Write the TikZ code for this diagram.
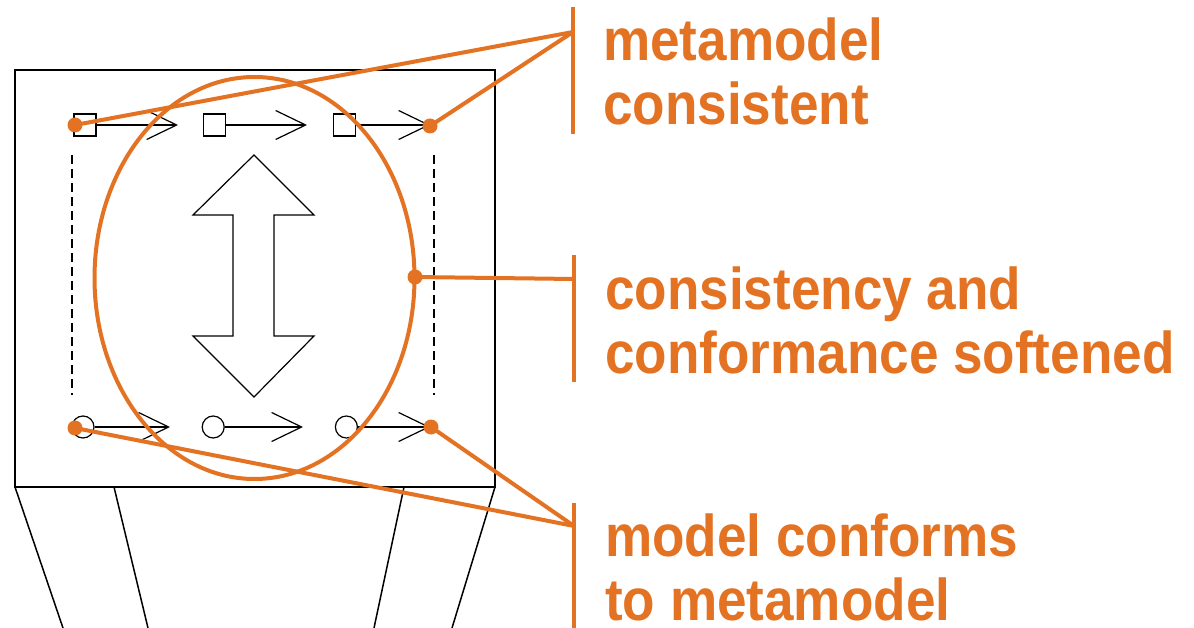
\documentclass[tikz,border=0pt]{standalone}
\usepackage{fontspec}
\setmainfont{Liberation Sans}
\newfontfamily\capfont[FakeStretch=0.9]{Liberation Sans}
\usetikzlibrary{arrows.meta,positioning}
\definecolor{tumorange}{RGB}{227,114,34}

\begin{document}
\begin{tikzpicture}[x=1pt, y=-1pt,
  elem/.style={draw=black, line width=1.2pt, minimum size=22pt, inner sep=0pt},
  flow/.style={-{Straight Barb[length=30pt, width=29pt]}, line width=1.2pt},
  hint/.style={draw=tumorange, line width=4pt},
  pin/.style={circle, fill=tumorange, minimum size=15pt, inner sep=0pt},
  caption/.style={text=tumorange, font=\capfont\bfseries\fontsize{59}{64}\selectfont,
    align=left, anchor=base west, inner sep=0pt}]
  \useasboundingbox (0,0) rectangle (1194,628);

  % stand and frame
  \draw[line width=1.5pt] (15,487) -- (63,628) (114,487) -- (148,628)
    (404,487) -- (374,628) (495,487) -- (452,628);
  \draw[line width=2.5pt, fill=white] (15,70) rectangle (495,487);

  % metamodel row
  \node[elem](m1) at (85,125){};
  \node[elem, right=106pt of m1](m2){};
  \node[elem, right=107pt of m2](m3){};
  \coordinate (tm1) at (178,125);
  \coordinate (tm2) at (307,125);
  \coordinate (tm3) at (430,125);

  % model row
  \node[elem, circle](c1) at (83,427){};
  \node[elem, circle, right=107pt of c1](c2){};
  \node[elem, circle, right=110pt of c2](c3){};
  \coordinate (tc1) at (170,427);
  \coordinate (tc2) at (303,427);
  \coordinate (tc3) at (430,427);

  \path[flow]
  (m1) edge (tm1)
  (m2) edge (tm2)
  (m3) edge (tm3)
  (c1) edge (tc1)
  (c2) edge (tc2)
  (c3) edge (tc3);

  \draw[line width=1.2pt, dash pattern=on 9pt off 5pt]
    (72,155) -- (72,395) (434,155) -- (434,395);

  % double arrow
  \draw[line width=1.2pt, line join=miter] (254,155) -- (314,215) -- (274,215) -- (274,336)
    -- (314,336) -- (254,397) -- (193,336) -- (233,336) -- (233,215)
    -- (193,215) -- cycle;

  % annotations
  \draw[hint] (254.5,278) ellipse [x radius=160pt, y radius=201pt];

  \node[pin](p1) at (75,125){};
  \node[pin](p2) at (430,126){};
  \node[pin](p3) at (415,277){};
  \node[pin](p4) at (75,428){};
  \node[pin](p5) at (431,427){};

  \coordinate (b1) at (573,32);
  \coordinate (b2) at (574,279);
  \coordinate (b3) at (574,526);
  \draw[hint] (573,7) -- (573,134);
  \draw[hint] (574,255) -- (574,382);
  \draw[hint] (574,503) -- (574,628);

  \path[hint]
  (p1.center) edge (b1)
  (p2.center) edge (b1)
  (p3.center) edge (b2)
  (p4.center) edge (b3)
  (p5.center) edge (b3);

  % base anchor sits on the last line
  \node[caption](t1) at (603,125){metamodel\\consistent};
  \node[caption](t2) at (605,373){consistency and\\conformance softened};
  \node[caption](t3) at (605,620){model conforms\\to metamodel};
\end{tikzpicture}
\end{document}
